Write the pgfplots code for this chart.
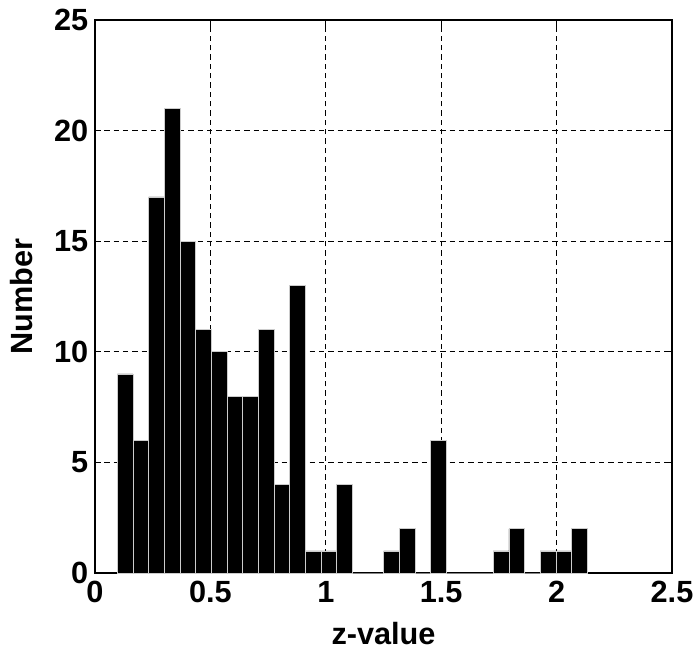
\documentclass[border=0pt]{standalone}
\usepackage{fontspec}
\setmainfont{Liberation Sans}
\usepackage{pgfplots}
\pgfplotsset{compat=1.18}
\begin{document}
\begin{tikzpicture}
\begin{axis}[
  scale only axis,
  width=432.75pt, height=414.75pt,
  xmin=0, xmax=2.5, ymin=0, ymax=25,
  xtick={0,0.5,1,1.5,2,2.5},
  xticklabels={0,0.5,1,1.5,2,2.5},
  ytick={0,5,10,15,20,25},
  tick align=inside,
  major tick length=4.5pt,
  tick style={black, line width=1pt},
  axis line style={black, line width=1.6pt},
  grid=major,
  major grid style={black, line width=0.7pt, dash pattern=on 4pt off 3pt},
  /pgf/number format/assume math mode=true,
  ticklabel style={font=\bfseries\fontsize{23}{26}\selectfont},
  xticklabel style={inner xsep=0pt, yshift=-2.5pt},
  yticklabel style={inner ysep=0pt, xshift=-1.5pt},
  label style={font=\bfseries\fontsize{23}{26}\selectfont, inner sep=0pt},
  xlabel={z-value},
  ylabel={Number},
  xlabel style={at={(axis description cs:0.5,0)}, anchor=base, yshift=-53.25pt},
  ylabel style={at={(axis description cs:0,0.5)}, anchor=base, yshift=46.5pt},
]
\addplot[ybar, bar width=0.0679, fill=black, draw=white!80!black, line width=0.5pt] coordinates {
(0.1305,9) (0.1984,6) (0.2663,17) (0.3341,21) (0.4020,15) (0.4699,11)
(0.5377,10) (0.6056,8) (0.6735,8) (0.7414,11) (0.8092,4) (0.8771,13)
(0.9450,1) (1.0128,1) (1.0807,4) (1.1486,0) (1.2164,0) (1.2843,1)
(1.3522,2) (1.4200,0) (1.4879,6) (1.5558,0) (1.6237,0) (1.6915,0)
(1.7594,1) (1.8273,2) (1.8951,0) (1.9630,1) (2.0309,1) (2.0987,2)
};
\end{axis}
\path ([xshift=-71.25pt,yshift=-58.5pt]current axis.south west) rectangle ([xshift=18pt,yshift=15pt]current axis.north east);
\end{tikzpicture}
\end{document}
